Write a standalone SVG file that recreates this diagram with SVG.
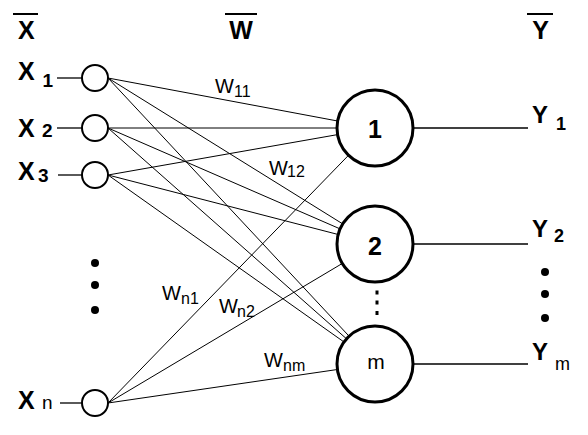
<svg xmlns="http://www.w3.org/2000/svg" width="588" height="435" viewBox="0 0 588 435">
<style>
.bg{fill:#fff}
.c{stroke:#000;stroke-width:1;fill:none}
.lead{stroke:#000;stroke-width:1.3;fill:none}
.in{fill:#fff;stroke:#000;stroke-width:2}
.out{fill:#fff;stroke:#000;stroke-width:3}
.bar{stroke:#000;stroke-width:2}
text{font-family:"Liberation Sans",Arial,sans-serif;fill:#000}
.b{font-weight:bold;font-size:25px}
.sb{font-weight:bold;font-size:19px}
.w{font-size:20px}
.ws{font-size:16px}
.dot{fill:#000}
</style>
<rect class="bg" x="0" y="0" width="588" height="435"/>
<g id="headers">
<line class="bar" x1="13" y1="14" x2="38" y2="14"/>
<text class="b" x="18" y="39">X</text>
<line class="bar" x1="225" y1="14" x2="257" y2="14"/>
<text class="b" x="241" y="39" text-anchor="middle">W</text>
<line class="bar" x1="527" y1="14" x2="553" y2="14"/>
<text class="b" x="540.5" y="39" text-anchor="middle">Y</text>
</g>
<g id="connectors">
<line class="c" x1="108" y1="78" x2="337.6" y2="121"/>
<line class="c" x1="108" y1="78" x2="342.7" y2="223.9"/>
<line class="c" x1="108" y1="78" x2="349.1" y2="336.2"/>
<line class="c" x1="108" y1="128" x2="337" y2="128"/>
<line class="c" x1="108" y1="128" x2="340.1" y2="228.9"/>
<line class="c" x1="108" y1="128" x2="346.5" y2="338.8"/>
<line class="c" x1="108" y1="175" x2="337.6" y2="134.6"/>
<line class="c" x1="108" y1="175" x2="338.2" y2="234.5"/>
<line class="c" x1="108" y1="175" x2="344" y2="342"/>
<line class="c" x1="108" y1="403" x2="348.5" y2="155.3"/>
<line class="c" x1="108" y1="403" x2="342.4" y2="263.4"/>
<line class="c" x1="108" y1="403" x2="337.4" y2="369.5"/>
<line class="lead" x1="57" y1="78" x2="82" y2="78"/>
<line class="lead" x1="57" y1="128" x2="82" y2="128"/>
<line class="lead" x1="58" y1="175" x2="82" y2="175"/>
<line class="lead" x1="60" y1="403" x2="82" y2="403"/>
<line class="lead" x1="413" y1="128" x2="528" y2="128"/>
<line class="lead" x1="413" y1="244" x2="528" y2="244"/>
<line class="lead" x1="413" y1="364" x2="528" y2="364"/>
</g>
<g id="weight-labels">
<text class="w" x="215" y="93">W</text><text class="ws" x="234" y="97">11</text>
<text class="w" x="269" y="175">W</text><text class="ws" x="287" y="177">12</text>
<text class="w" x="162" y="300">W</text><text class="ws" x="181" y="304">n1</text>
<text class="w" x="219" y="313">W</text><text class="ws" x="237" y="317">n2</text>
<text class="w" x="264" y="367">W</text><text class="ws" x="283" y="371">nm</text>
</g>
<g id="x1">
<circle class="in" cx="95" cy="78" r="13"/>
<text class="b" x="18" y="80">X</text><text class="sb" x="42.5" y="87">1</text>
</g>
<g id="x2">
<circle class="in" cx="95" cy="128" r="13"/>
<text class="b" x="18" y="137">X</text><text class="sb" x="42" y="137">2</text>
</g>
<g id="x3">
<circle class="in" cx="95" cy="175" r="13"/>
<text class="b" x="18" y="180">X</text><text class="sb" x="38" y="182">3</text>
</g>
<g id="xn">
<circle class="in" cx="95" cy="403" r="13"/>
<text class="b" x="18" y="409">X</text><text x="42" y="409" style="font-size:19px">n</text>
</g>
<g id="x-dots">
<circle class="dot" cx="95" cy="263" r="4"/>
<circle class="dot" cx="95" cy="285" r="4"/>
<circle class="dot" cx="95" cy="310" r="4"/>
</g>
<g id="n1">
<circle class="out" cx="375" cy="128" r="38"/>
<text class="b" x="375" y="138" text-anchor="middle">1</text>
</g>
<g id="n2">
<circle class="out" cx="375" cy="244" r="38"/>
<text class="b" x="375" y="255" text-anchor="middle">2</text>
</g>
<g id="nm">
<circle class="out" cx="375" cy="364" r="38"/>
<text x="376" y="369" text-anchor="middle" style="font-size:21px">m</text>
</g>
<g id="n-dots">
<rect class="dot" x="375.5" y="290.5" width="3" height="4"/>
<rect class="dot" x="375.5" y="300.5" width="3" height="4"/>
<rect class="dot" x="375.5" y="311" width="3" height="4"/>
</g>
<g id="y1">
<text class="b" x="532" y="123" style="font-size:24px">Y</text><text x="556" y="130" style="font-weight:bold;font-size:18px">1</text>
</g>
<g id="y2">
<text class="b" x="532" y="237" style="font-size:24px">Y</text><text x="554" y="242" style="font-weight:bold;font-size:18px">2</text>
</g>
<g id="ym">
<text class="b" x="532" y="360" style="font-size:24px">Y</text><text x="555" y="370" style="font-size:18px">m</text>
</g>
<g id="y-dots">
<circle class="dot" cx="545" cy="272" r="4"/>
<circle class="dot" cx="545" cy="294" r="4"/>
<circle class="dot" cx="545" cy="318" r="4"/>
</g>
</svg>
